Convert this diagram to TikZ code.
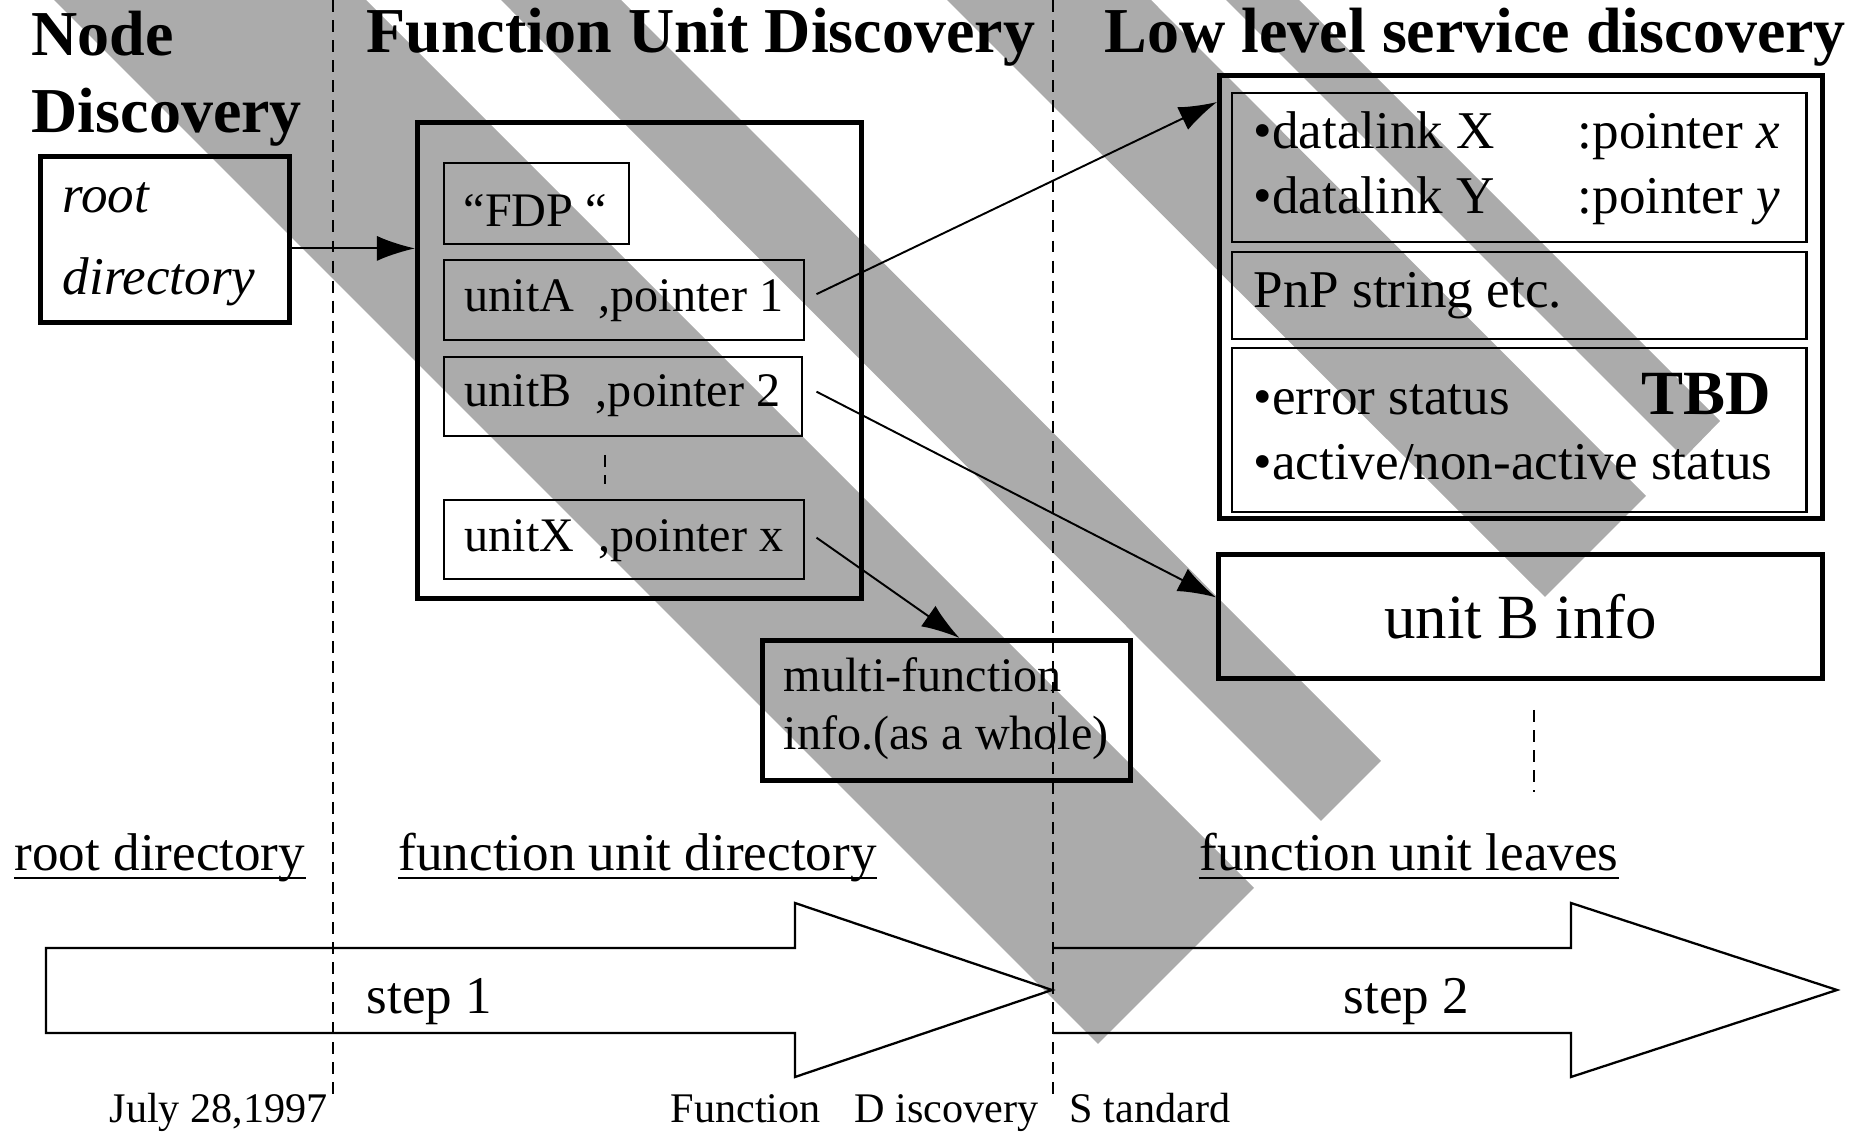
\documentclass[tikz,border=0pt]{standalone}
\usepackage{fontspec}
\setmainfont{Liberation Serif}
\usetikzlibrary{arrows.meta}
\definecolor{bandgray}{RGB}{171,171,171}
\newcommand{\fdTitle}{\fontsize{18.2pt}{21.9pt}\selectfont\bfseries}
\newcommand{\fdBox}{\fontsize{13.7pt}{16pt}\selectfont}
\newcommand{\fdInfo}{\fontsize{15.1pt}{18pt}\selectfont}
\newcommand{\fdNote}{\fontsize{12pt}{14pt}\selectfont}
\newcommand{\fdLarge}{\fontsize{17.9pt}{21pt}\selectfont}

\begin{document}
\begin{tikzpicture}[x=0.01cm, y=-0.01cm, >={Latex[length=3.8mm,width=2.5mm]},
    heavybox/.style={draw=black, line width=1.35pt, inner sep=0pt, anchor=north west},
    lightbox/.style={draw=black, line width=0.65pt, inner sep=0pt, anchor=north west},
    txt/.style={anchor=base west, inner sep=0pt},
    pointer/.style={->, line width=0.55pt},
    divider/.style={line width=0.7pt, dash pattern=on 3.4pt off 2.3pt},
    ulline/.style={line width=0.7pt},
    steparrow/.style={draw=black, line width=0.65pt, line join=miter}]

        \useasboundingbox (0,0) rectangle (1865,1134);

        % Shaded bands
        \fill[bandgray] (54,0) -- (366,0) -- (1254,888) -- (1098,1044) -- cycle;
        \fill[bandgray] (501,0) -- (621,0) -- (1381,761) -- (1321,821) -- cycle;
        \fill[bandgray] (947,0) -- (1151,0) -- (1646,496) -- (1545,597) -- cycle;
        \fill[bandgray] (1226,0) -- (1299,0) -- (1720,421) -- (1684,458) -- cycle;

        % Phase dividers
        \draw[divider] (333,0) -- (333,1095);
        \draw[divider] (1053,0) -- (1053,1095);

        % Titles
        \node[anchor=north west, align=left, inner sep=0pt, font=\fdTitle] (ndtitle) at (31,10) {Node\\Discovery};
        \node[txt, font=\fdTitle] (futitle) at (366,53) {Function Unit Discovery};
        \node[txt, font=\fdTitle] (lltitle) at (1104,53) {Low level service discovery};

        % Root directory
        \node[heavybox, minimum width=2.49cm, minimum height=1.66cm] (rootbox) at (38,154) {};
        \node[txt, font=\fdInfo\itshape] (roottxtA) at (62,213) {root};
        \node[txt, font=\fdInfo\itshape] (roottxtB) at (62,295) {directory};

        % Function unit directory
        \node[heavybox, minimum width=4.44cm, minimum height=4.76cm] (fubox) at (415,120) {};
        \node[lightbox, minimum width=1.85cm, minimum height=0.81cm] (fdpbox) at (443,162) {};
        \node[txt, font=\fdBox] (fdptxt) at (463,227) {“FDP “};
        \node[lightbox, minimum width=3.60cm, minimum height=0.80cm] (unitAbox) at (443,259) {};
        \node[txt, font=\fdBox] (unitAtxt) at (464,312) {unitA\ \ ,pointer 1};
        \node[lightbox, minimum width=3.58cm, minimum height=0.79cm] (unitBbox) at (443,356) {};
        \node[txt, font=\fdBox] (unitBtxt) at (464,407) {unitB\ \ ,pointer 2};
        \draw[divider] (605,455) -- (605,484);
        \node[lightbox, minimum width=3.60cm, minimum height=0.79cm] (unitXbox) at (443,499) {};
        \node[txt, font=\fdBox] (unitXtxt) at (464,552) {unitX\ \ ,pointer x};

        % Low level service entries
        \node[heavybox, minimum width=6.03cm, minimum height=4.43cm] (lsdbox) at (1217,73) {};
        \node[lightbox, minimum width=5.74cm, minimum height=1.49cm] (dlbox) at (1231,92) {};
        \node[txt, font=\fdInfo] (dlXtxt) at (1253,149) {•datalink X};
        \node[txt, font=\fdInfo] (ptrXtxt) at (1577,149) {:pointer \textit{x}};
        \node[txt, font=\fdInfo] (dlYtxt) at (1253,214) {•datalink Y};
        \node[txt, font=\fdInfo] (ptrYtxt) at (1577,214) {:pointer \textit{y}};
        \node[lightbox, minimum width=5.74cm, minimum height=0.87cm] (pnpbox) at (1231,251) {};
        \node[txt, font=\fdInfo] (pnptxt) at (1253,308) {PnP string etc.};
        \node[lightbox, minimum width=5.74cm, minimum height=1.64cm] (statbox) at (1231,347) {};
        \node[txt, font=\fdInfo] (errtxt) at (1253,415) {•error status};
        \node[anchor=base east, inner sep=0pt, font=\fdLarge\bfseries] (tbdtxt) at (1772,415) {TBD};
        \node[txt, font=\fdInfo] (acttxt) at (1253,480) {•active/non-active status};

        % Unit B and multi-function info
        \node[heavybox, minimum width=6.04cm, minimum height=1.24cm, font=\fdLarge] (unitbbox) at (1216,552) {unit B info};
        \draw[divider] (1534,710) -- (1534,792);
        \node[heavybox, minimum width=3.68cm, minimum height=1.40cm] (multibox) at (760,638) {};
        \node[txt, font=\fdBox] (multitxtA) at (783,692) {multi-function};
        \node[txt, font=\fdBox] (multitxtB) at (783,750) {info.(as a whole)};

        % Pointers
        \draw[pointer] ([yshift=-0.09cm]rootbox.east) -- ([yshift=-0.09cm]rootbox.east -| fubox.west);
        \draw[pointer] ([xshift=0.11cm,yshift=0.06cm]unitAbox.east) -- ([yshift=-0.29cm]lsdbox.north west);
        \draw[pointer] ([xshift=0.13cm,yshift=0.05cm]unitBbox.east) -- ([yshift=0.19cm]unitbbox.west);
        \draw[pointer] ([xshift=0.11cm,yshift=0.02cm]unitXbox.east) -- ([xshift=0.13cm]multibox.north);

        % Layer labels
        \node[txt, font=\fdInfo] (rootlbl) at (14,871) {root directory};
        \draw[ulline] ([yshift=-0.07cm]rootlbl.base west) -- ([yshift=-0.07cm]rootlbl.base east);
        \node[txt, font=\fdInfo] (fudlbl) at (398,871) {function unit directory};
        \draw[ulline] ([yshift=-0.07cm]fudlbl.base west) -- ([yshift=-0.07cm]fudlbl.base east);
        \node[txt, font=\fdInfo] (fullbl) at (1199,871) {function unit leaves};
        \draw[ulline] ([yshift=-0.07cm]fullbl.base west) -- ([yshift=-0.07cm]fullbl.base east);

        % Step arrows
        \draw[steparrow] (46,948) -- (795,948) -- (795,903) -- (1052,990) -- (795,1077) -- (795,1033) -- (46,1033) -- cycle;
        \draw[steparrow] (1053,948) -- (1571,948) -- (1571,903) -- (1837,990) -- (1571,1077) -- (1571,1033) -- (1053,1033);
        \node[txt, font=\fdInfo] (steponetxt) at (366,1014) {step 1};
        \node[txt, font=\fdInfo] (steptwotxt) at (1343,1014) {step 2};

        % Dates and notes
        \node[txt, font=\fdNote] (datetxt) at (109,1123) {July 28,1997};
        \node[txt, font=\fdNote] (fdstxt) at (670,1123) {Function\hspace{0.34cm}D iscovery\hspace{0.31cm}S tandard};

    \end{tikzpicture}
\end{document}
